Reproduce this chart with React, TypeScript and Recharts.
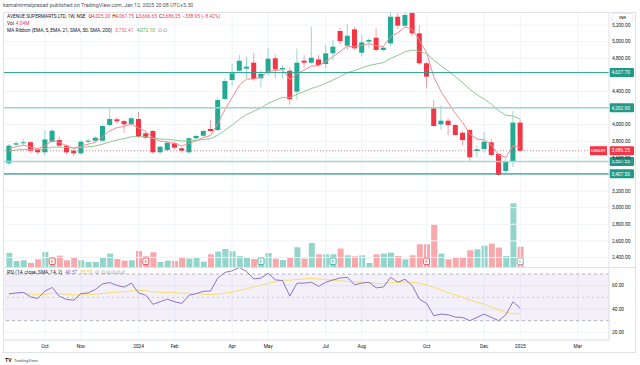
import React from "react";
import {
  ComposedChart,
  Bar,
  Line,
  XAxis,
  YAxis,
  ReferenceLine,
  ReferenceArea,
  ReferenceDot,
  CartesianGrid,
  Cell,
} from "recharts";

// weekly candles, DMART, from the week of 28 Aug 2023 to the week of 6 Jan 2025
const opens = [
  3535, 3760, 3776, 3788, 3695, 3667, 3795, 3815, 3747, 3687,
  3655, 3800, 3807, 3807, 3996, 4065, 4044, 4008, 4069, 3896,
  3924, 3667, 3695, 3776, 3716, 3667, 3836, 3867, 3948, 3936,
  4310, 4538, 4651, 4675, 4747, 4559, 4626, 4800, 4667, 4650,
  4398, 4771, 4747, 4787, 4731, 4860, 5129, 4952, 5149, 4867,
  5000, 5048, 4900, 4980, 5301, 5193, 5354, 5101, 4740, 4197,
  4004, 4048, 3996, 3903, 3936, 3683, 3707, 3788, 3647, 3442,
  3554, 4025.2,
];
const highs = [
  3770, 3800, 3830, 3800, 3720, 3930, 3945, 3860, 3760, 3720,
  3810, 3830, 3860, 4000, 4197, 4090, 4060, 4100, 4156, 3920,
  3940, 3750, 3800, 3800, 3730, 3850, 3880, 3940, 4056, 4330,
  4560, 4739, 4840, 4820, 4870, 4660, 4920, 4850, 4720, 4690,
  4920, 4840, 5180, 4840, 4960, 5020, 5170, 5210, 5180, 5090,
  5050, 5160, 4940, 5380, 5370, 5380, 5400, 5200, 4760, 4300,
  4230, 4080, 4010, 3920, 3950, 3755, 3910, 3830, 3660, 3600,
  4165, 4061.75,
];
const lows = [
  3510, 3740, 3740, 3660, 3640, 3630, 3780, 3720, 3640, 3620,
  3640, 3770, 3790, 3795, 3980, 4010, 3900, 3990, 3840, 3820,
  3650, 3640, 3680, 3700, 3660, 3650, 3820, 3850, 3910, 3920,
  4300, 4470, 4640, 4560, 4530, 4450, 4590, 4560, 4560, 4240,
  4300, 4680, 4730, 4700, 4680, 4780, 4960, 4900, 4900, 4820,
  4930, 4880, 4880, 4950, 5150, 5180, 5060, 4720, 4438, 3980,
  3940, 3876, 3870, 3750, 3554, 3610, 3660, 3620, 3380, 3420,
  3494, 3666.65,
];
const closes = [
  3747, 3776, 3788, 3687, 3667, 3822, 3927, 3747, 3667, 3655,
  3795, 3807, 3843, 3984, 4069, 4041, 4005, 4077, 3855, 3843,
  3667, 3735, 3783, 3723, 3687, 3836, 3864, 3924, 3924, 4297,
  4526, 4619, 4771, 4699, 4551, 4611, 4795, 4667, 4683, 4306,
  4747, 4747, 4807, 4719, 4860, 4940, 5008, 5072, 4920, 4992,
  5020, 4900, 4928, 5301, 5193, 5322, 5101, 4740, 4579, 3984,
  4048, 3996, 3876, 3815, 3607, 3703, 3795, 3635, 3394, 3554,
  4025.2, 3686.25,
];
// volume in millions of shares
const volumes = [
  2.8, 1.2, 1.34, 0.8, 1.54, 3.0, 1.88, 2.28, 1.34, 1.94,
  1.34, 1.0, 1.0, 1.94, 2.68, 1.6, 1.28, 1.34, 3.2, 2.14,
  2.94, 1.0, 1.28, 1.2, 1.94, 1.68, 1.88, 1.08, 2.54, 3.08,
  3.6, 3.14, 2.2, 1.8, 1.6, 1.8, 2.8, 1.68, 1.4, 1.94,
  3.94, 1.68, 4.8, 2.54, 2.54, 2.54, 3.68, 2.34, 2.14, 2.34,
  0.8, 2.54, 2.68, 2.88, 2.2, 1.54, 2.34, 4.54, 4.54, 8.54,
  2.68, 1.54, 1.8, 1.88, 3.34, 3.54, 4.28, 4.68, 3.88, 2.2,
  12.74, 4.04,
];
const rsiValues = [
  53, 53.8, 54.3, 50.4, 49, 55.4, 58.5, 51, 48.2, 47.6,
  53.2, 53.8, 56.8, 61.6, 62.7, 60.2, 58.8, 62.2, 53.8, 51.8,
  44, 46.2, 48.4, 46.2, 44.8, 51.8, 53.2, 55.2, 55.4, 66.6,
  71.4, 72.8, 75.6, 72.2, 65.8, 66.6, 70.6, 65, 64.4, 51,
  62.2, 62.2, 63, 59.4, 63, 65, 66.6, 67.2, 60.8, 62.2,
  63, 58.2, 58.8, 67.2, 63, 65.5, 60.2, 48.4, 44.8, 34.2,
  35.6, 35, 33, 32.8, 30, 32.8, 35.6, 32.8, 30, 35,
  46.2, 40.57,
];

const ema5Seed = 3700;
const ema21Seed = 3680;

const monthTicks = [5, 10, 18, 23, 31, 36, 44, 49, 58, 66, 71, 79];
const monthLabels = ["Oct", "Nov", "2024", "Feb", "Apr", "May", "Jul", "Aug", "Oct", "Dec", "2025", "Mar"];
const priceTicks = [2400, 2600, 2800, 3000, 3200, 3400, 3600, 3800, 4000, 4200, 4400, 4600, 4800, 5000, 5200];
const rsiTicks = [20, 40, 60];

const levels = [4627.7, 4202.9, 3557.55, 3407.5];
const levelColors = ["#2b9e8b", "#a3d5ca", "#a3d5ca", "#2b9e8b"];
const levelWidths = [1, 1.5, 1.5, 1.2];

const earningsBars = [6, 19, 35, 45, 58, 71];
const earningsColors = ["#f23645", "#f23645", "#22ab94", "#22ab94", "#f23645", "#9598a1"];

const legendEma = ["3,732.41", "4,072.10"];
const legendRsi = ["40.57", "35.53"];

const UP = "#22ab94";
const DOWN = "#f23645";

function ema(values: number[], seed: number, period: number) {
  const k = 2 / (period + 1);
  const out: number[] = [];
  let prev = seed;
  values.forEach((v) => {
    prev = prev + k * (v - prev);
    out.push(prev);
  });
  return out;
}

function sma(values: number[], period: number) {
  return values.map((_, i) => {
    const win = values.slice(Math.max(0, i - period + 1), i + 1);
    return win.reduce((a, b) => a + b, 0) / win.length;
  });
}

const ema5 = ema(closes, ema5Seed, 5);
const ema21 = ema(closes, ema21Seed, 21);
const rsiSma = sma(rsiValues, 14);

const rows = closes.map((c, i) => ({
  i,
  open: opens[i],
  high: highs[i],
  low: lows[i],
  close: c,
  vol: volumes[i],
  ema5: ema5[i],
  ema21: ema21[i],
  rsi: rsiValues[i],
  rsiSma: rsiSma[i],
}));
const last = rows[rows.length - 1];
const prev = rows[rows.length - 2];

const LEFT = 3;
const WIDTH = 633;
const AXIS_W = 27;
const MAIN_TOP = 12;
const MAIN_H = 255;
const RSI_TOP = 267;
const RSI_H = 86;
const TIME_H = 13;
const xDomain = [-0.83, 83.33];
const priceDomain = [2285, 5358];
const volDomain = [0, 51];
const rsiDomain = [13.4, 76.05];

const fmt = (v: number) =>
  v.toLocaleString("en-US", { minimumFractionDigits: 2, maximumFractionDigits: 2 });
const labelTicks = priceTicks.filter((t) => !levels.some((l) => Math.abs(l - t) < 40));
const FONT = 4.8;

function Candle(props: any) {
  const { x, y, width, height, payload } = props;
  if (!payload || height == null || isNaN(y)) return null;
  const top = Math.min(y, y + height);
  const span = Math.abs(height);
  const range = payload.high - payload.low || 1;
  const toY = (v: number) => top + ((payload.high - v) / range) * span;
  const color = payload.close >= payload.open ? UP : DOWN;
  const bodyTop = toY(Math.max(payload.open, payload.close));
  const bodyBot = toY(Math.min(payload.open, payload.close));
  const cx = x + width / 2;
  return (
    <g>
      <line x1={cx} x2={cx} y1={top} y2={top + span} stroke={color} strokeOpacity={0.45} />
      <rect x={x} y={bodyTop} width={width} height={Math.max(1, bodyBot - bodyTop)} fill={color} />
    </g>
  );
}

function PriceTag(props: any) {
  const { viewBox, text, fill, name } = props;
  if (!viewBox) return null;
  const right = viewBox.x + viewBox.width;
  const cy = viewBox.y;
  return (
    <g>
      {name ? (
        <g>
          <rect x={right - 19} y={cy - 4.5} width={17} height={9} fill={fill} />
          <text x={right - 10.5} y={cy} dy="0.35em" textAnchor="middle" fontSize={4.4} fill="#fff">
            {name}
          </text>
        </g>
      ) : null}
      <rect x={right + 0.5} y={cy - 4.5} width={24.5} height={9} fill={fill} rx={1} />
      <text x={right + 2.5} y={cy} dy="0.35em" fontSize={FONT} fill="#fff">
        {text}
      </text>
    </g>
  );
}

function Badge(props: any) {
  const { cx, cy, color } = props;
  if (cx == null || cy == null) return null;
  return (
    <g>
      <rect x={cx - 3} y={cy - 9} width={6} height={6.5} rx={1.2} fill="#fff" stroke={color} strokeWidth={0.8} />
      <text x={cx} y={cy - 5.7} dy="0.35em" textAnchor="middle" fontSize={4} fill={color}>
        E
      </text>
    </g>
  );
}

export default function App() {
  const chg = last.close - prev.close;
  const pct = (chg / prev.close) * 100;
  const sign = (v: number) => (v < 0 ? "\u2212" : "+");
  return (
    <div
      style={{
        position: "absolute",
        left: 0,
        top: 0,
        width: 640,
        height: 365,
        background: "#fff",
        overflow: "hidden",
        fontFamily: "Roboto, 'Liberation Sans', sans-serif",
      }}
    >
      {/* volume + grid layer */}
      <div style={{ position: "absolute", left: LEFT, top: MAIN_TOP }}>
        <ComposedChart width={WIDTH} height={MAIN_H} data={rows} margin={{ top: 0, right: AXIS_W, bottom: 0, left: 0 }}>
          <XAxis dataKey="i" type="number" domain={xDomain} hide allowDataOverflow />
          <YAxis yAxisId="vol" domain={volDomain} hide allowDataOverflow />
          <YAxis yAxisId="price" domain={priceDomain} hide allowDataOverflow />
          {priceTicks.map((t) => (
            <ReferenceLine key={"h" + t} yAxisId="price" y={t} stroke="#f0f3fa" />
          ))}
          {monthTicks.map((t) => (
            <ReferenceLine key={"v" + t} yAxisId="price" x={t} stroke="#f0f3fa" />
          ))}
          <Bar yAxisId="vol" dataKey="vol" barSize={6} isAnimationActive={false}>
            {rows.map((r) => (
              <Cell key={r.i} fill={r.close >= r.open ? "#93d5ca" : "#f8a7ab"} />
            ))}
          </Bar>
          {earningsBars.map((b, k) => (
            <ReferenceDot
              key={"e" + b}
              yAxisId="vol"
              x={b}
              y={0}
              r={0}
              shape={(p: any) => <Badge cx={p.cx} cy={p.cy} color={earningsColors[k]} />}
            />
          ))}
        </ComposedChart>
      </div>

      {/* price layer */}
      <div style={{ position: "absolute", left: LEFT, top: MAIN_TOP }}>
        <ComposedChart width={WIDTH} height={MAIN_H} data={rows} margin={{ top: 0, right: 0, bottom: 0, left: 0 }}>
          <XAxis dataKey="i" type="number" domain={xDomain} hide allowDataOverflow />
          <YAxis
            orientation="right"
            width={AXIS_W}
            domain={priceDomain}
            ticks={labelTicks}
            interval={0}
            tickFormatter={fmt}
            tick={{ fontSize: FONT, fill: "#131722" }}
            tickLine={false}
            tickSize={0}
            tickMargin={3}
            axisLine={{ stroke: "#e0e3eb" }}
            allowDataOverflow
          />
          <Bar
            dataKey={(d: any) => [d.low, d.high]}
            barSize={5}
            shape={<Candle />}
            isAnimationActive={false}
          />
          <Line dataKey="ema21" stroke="#8fca91" strokeWidth={1} dot={false} isAnimationActive={false} />
          <Line dataKey="ema5" stroke="#f48c92" strokeWidth={1} dot={false} isAnimationActive={false} />
          {levels.map((l, k) => (
            <ReferenceLine
              key={"l" + l}
              y={l}
              stroke={levelColors[k]}
              strokeWidth={levelWidths[k]}
              label={<PriceTag text={fmt(l)} fill="#1f9a86" />}
            />
          ))}
          <ReferenceLine
            y={last.close}
            stroke={DOWN}
            strokeOpacity={0.6}
            strokeDasharray="1 2"
            label={<PriceTag text={fmt(last.close)} fill={DOWN} name="DMART" />}
          />
        </ComposedChart>
      </div>

      {/* RSI pane + time axis */}
      <div style={{ position: "absolute", left: LEFT, top: RSI_TOP }}>
        <ComposedChart width={WIDTH} height={RSI_H} data={rows} margin={{ top: 0, right: 0, bottom: 0, left: 0 }}>
          <XAxis
            dataKey="i"
            type="number"
            domain={xDomain}
            ticks={monthTicks}
            interval={0}
            tickFormatter={(v: number) => monthLabels[monthTicks.indexOf(v)]}
            height={TIME_H}
            tickLine={false}
            tickSize={0}
            tickMargin={5}
            axisLine={{ stroke: "#e0e3eb" }}
            tick={{ fontSize: FONT, fill: "#131722" }}
            allowDataOverflow
          />
          <YAxis
            orientation="right"
            width={AXIS_W}
            domain={rsiDomain}
            ticks={rsiTicks}
            interval={0}
            tickFormatter={(v: number) => v.toFixed(2)}
            tick={{ fontSize: FONT, fill: "#131722" }}
            tickLine={false}
            tickSize={0}
            tickMargin={3}
            axisLine={{ stroke: "#e0e3eb" }}
            allowDataOverflow
          />
          <CartesianGrid stroke="#f0f3fa" />
          <ReferenceArea y1={30} y2={70} fill="#7e57c2" fillOpacity={0.09} />
          <ReferenceLine y={70} stroke="#b2b5be" strokeDasharray="3 3" />
          <ReferenceLine y={50} stroke="#c9cbd3" strokeDasharray="2 3" />
          <ReferenceLine y={30} stroke="#b2b5be" strokeDasharray="3 3" />
          <Line dataKey="rsiSma" stroke="#f7df6e" strokeWidth={1} dot={false} isAnimationActive={false} />
          <Line dataKey="rsi" stroke="#8e73cc" strokeWidth={1} dot={false} isAnimationActive={false} />
        </ComposedChart>
      </div>

      {/* frame, legends and captions */}
      <svg width={640} height={365} style={{ position: "absolute", left: 0, top: 0, pointerEvents: "none" }}>
        <rect x={3.5} y={12.5} width={632} height={340} fill="none" stroke="#e0e3eb" />
        <line x1={3} x2={636} y1={267.5} y2={267.5} stroke="#e0e3eb" />
        <text x={3} y={5} dy="0.35em" fontSize={5.3} fill="#50535e">
          kamalnirmalprasad published on TradingView.com, Jan 12, 2025 20:08 UTC+5:30
        </text>
        <text x={7} y={16} dy="0.35em" fontSize={FONT} fill="#131722">
          AVENUE SUPERMARTS LTD, 1W, NSE
          <tspan dx={3}>O</tspan>
          <tspan fill={DOWN}>{fmt(last.open)}</tspan>
          <tspan dx={2}>H</tspan>
          <tspan fill={DOWN}>{fmt(last.high)}</tspan>
          <tspan dx={2}>L</tspan>
          <tspan fill={DOWN}>{fmt(last.low)}</tspan>
          <tspan dx={2}>C</tspan>
          <tspan fill={DOWN}>{fmt(last.close)}</tspan>
          <tspan dx={2} fill={DOWN}>
            {sign(chg) + fmt(Math.abs(chg)) + " (" + sign(pct) + Math.abs(pct).toFixed(2) + "%)"}
          </tspan>
        </text>
        <text x={7} y={23.5} dy="0.35em" fontSize={FONT} fill="#131722">
          Vol
          <tspan dx={2} fill={DOWN}>{last.vol.toFixed(2) + "M"}</tspan>
        </text>
        <text x={7} y={30.5} dy="0.35em" fontSize={FONT} fill="#131722">
          MA Ribbon (EMA, 5, EMA, 21, SMA, 50, SMA, 200)
          <tspan dx={3} fill="#f0606c">{legendEma[0]}</tspan>
          <tspan dx={3} fill="#4caf50">{legendEma[1]}</tspan>
          <tspan dx={3} fill="#787b86">{"\u2205  \u2205"}</tspan>
        </text>
        <text x={7} y={272.5} dy="0.35em" fontSize={FONT} fill="#131722">
          RSI (14, close, SMA, 14, 2)
          <tspan dx={3} fill="#7e57c2">{legendRsi[0]}</tspan>
          <tspan dx={3} fill="#e3c21a">{legendRsi[1]}</tspan>
          <tspan dx={3} fill="#787b86">{"\u2205 \u2205 \u2205 \u2205 \u2205 \u2205"}</tspan>
        </text>
        <rect x={612} y={13.5} width={21} height={8.5} rx={2} fill="#fff" stroke="#e0e3eb" strokeWidth={0.8} />
        <text x={622.5} y={17.8} dy="0.35em" textAnchor="middle" fontSize={4.4} fill="#131722">
          INR
        </text>
        <text x={5} y={360} dy="0.35em" fontSize={5.2} fontWeight={700} fill="#131722">
          TV
          <tspan dx={2} fontSize={4.4} fontWeight={400} fill="#50535e">
            TradingView
          </tspan>
        </text>
      </svg>
    </div>
  );
}
